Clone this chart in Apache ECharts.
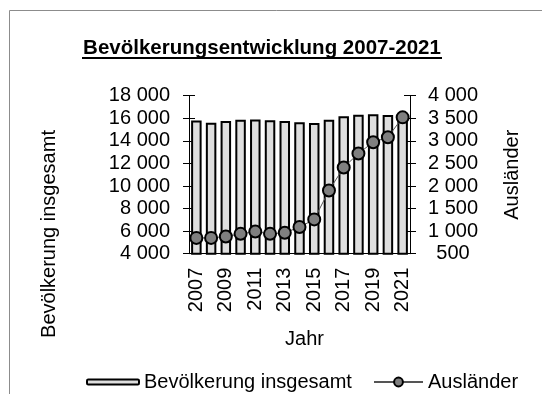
<!DOCTYPE html>
<html>
<head>
<meta charset="utf-8">
<script src="https://cdn.jsdelivr.net/npm/echarts@6/dist/echarts.min.js"></script>
<style>
  html, body { margin: 0; padding: 0; background: #fff; }
  #chart { width: 542px; height: 394px; }
</style>
</head>
<body>
<div id="chart"></div>
<script>
// Jahre (Kategorien)
const years = ['2007','2008','2009','2010','2011','2012','2013','2014','2015','2016','2017','2018','2019','2020','2021'];
// Bevölkerung insgesamt (linke Achse)
const totalPopulation = [15800, 15600, 15750, 15870, 15900, 15820, 15760, 15650, 15580, 15870, 16180, 16320, 16350, 16290, 16300];
// Ausländer (rechte Achse)
const foreigners = [850, 850, 880, 940, 990, 940, 965, 1090, 1260, 1900, 2410, 2720, 2970, 3080, 3520];

const FONT = '"Liberation Sans", Arial, sans-serif';
const fmt = v => String(v).replace(/\B(?=(\d{3})+(?!\d))/g, ' ');

const chart = echarts.init(document.getElementById('chart'), null, { renderer: 'canvas' });

const baseLeft = { type: 'value', position: 'left', min: 4000, max: 18000, interval: 2000 };
const baseRight = { type: 'value', position: 'right', min: 500, max: 4000, interval: 500 };

chart.setOption({
  animation: false,
  backgroundColor: '#fff',
  textStyle: { fontFamily: FONT, color: '#000' },
  grid: { left: 189, right: 132, top: 95.7, bottom: 140.3, containLabel: false },
  graphic: [
    // chart frame
    { type: 'rect', shape: { x: 9.5, y: 10.5, width: 700, height: 600 }, style: { fill: null, stroke: '#8c8c8c', lineWidth: 1 }, silent: true },
    // underlined title
    { type: 'text', x: 262, y: 38, style: { text: 'Bevölkerungsentwicklung 2007-2021', font: 'bold 20.5px ' + FONT, fill: '#000', textAlign: 'center', textVerticalAlign: 'top' } },
    { type: 'line', shape: { x1: 82, y1: 58, x2: 442, y2: 58 }, style: { stroke: '#000', lineWidth: 2 } },
    // left axis title, set lower than the axis centre
    { type: 'text', x: 49, y: 234, rotation: Math.PI / 2, style: { text: 'Bevölkerung insgesamt', font: '20px ' + FONT, fill: '#000', textAlign: 'center', textVerticalAlign: 'middle' } }
  ],
  legend: [
    { data: ['Bevölkerung insgesamt'], left: 81, top: 367, itemWidth: 52, itemHeight: 5, textStyle: { fontSize: 20, fontFamily: FONT, color: '#000' } },
    { data: ['Ausländer'], left: 368, top: 367, itemWidth: 49, itemHeight: 11, textStyle: { fontSize: 20, fontFamily: FONT, color: '#000' } }
  ],
  xAxis: {
    type: 'category',
    data: years,
    name: 'Jahr',
    nameLocation: 'middle',
    nameGap: 76,
    nameTextStyle: { fontSize: 20, color: '#000', padding: [0, 0, 0, 10] },
    axisLine: { lineStyle: { color: '#000', width: 1 } },
    axisTick: { show: false },
    axisLabel: { rotate: 90, interval: 1, fontSize: 20, color: '#000', margin: 14 }
  },
  yAxis: [
    Object.assign({}, baseLeft, {
      axisLine: { show: true, lineStyle: { color: '#000', width: 1 } },
      axisTick: { show: true, length: 6, lineStyle: { color: '#000' } },
      axisLabel: { fontSize: 20, color: '#000', margin: 19, formatter: fmt },
      splitLine: { show: false }
    }),
    Object.assign({}, baseRight, {
      name: 'Ausländer',
      nameLocation: 'middle', nameGap: 92, nameRotate: 90,
      nameTextStyle: { fontSize: 20, color: '#000' },
      axisLine: { show: true, lineStyle: { color: '#000', width: 1 } },
      axisTick: { show: true, length: 6, lineStyle: { color: '#000' } },
      axisLabel: { fontSize: 20, color: '#000', margin: 43, align: 'center', formatter: fmt },
      splitLine: { show: false }
    }),
    // inner halves of the crossing tick marks
    Object.assign({}, baseLeft, {
      axisLine: { show: false }, axisLabel: { show: false }, splitLine: { show: false },
      axisTick: { show: true, inside: true, length: 6, lineStyle: { color: '#000' } }
    }),
    Object.assign({}, baseRight, {
      axisLine: { show: false }, axisLabel: { show: false }, splitLine: { show: false },
      axisTick: { show: true, inside: true, length: 6, lineStyle: { color: '#000' } }
    })
  ],
  series: [
    {
      name: 'Bevölkerung insgesamt',
      type: 'bar',
      yAxisIndex: 0,
      data: totalPopulation,
      barWidth: 10.5,
      itemStyle: { color: '#dedede', borderColor: '#000', borderWidth: 2 },
      z: 2
    },
    {
      name: 'Ausländer',
      type: 'line',
      yAxisIndex: 1,
      data: foreigners,
      symbol: 'circle',
      symbolSize: 12,
      showSymbol: true,
      showAllSymbol: true,
      lineStyle: { color: '#555', width: 1 },
      itemStyle: { color: '#7f7f7f', borderColor: '#000', borderWidth: 2 },
      z: 3
    }
  ]
});
</script>
</body>
</html>
